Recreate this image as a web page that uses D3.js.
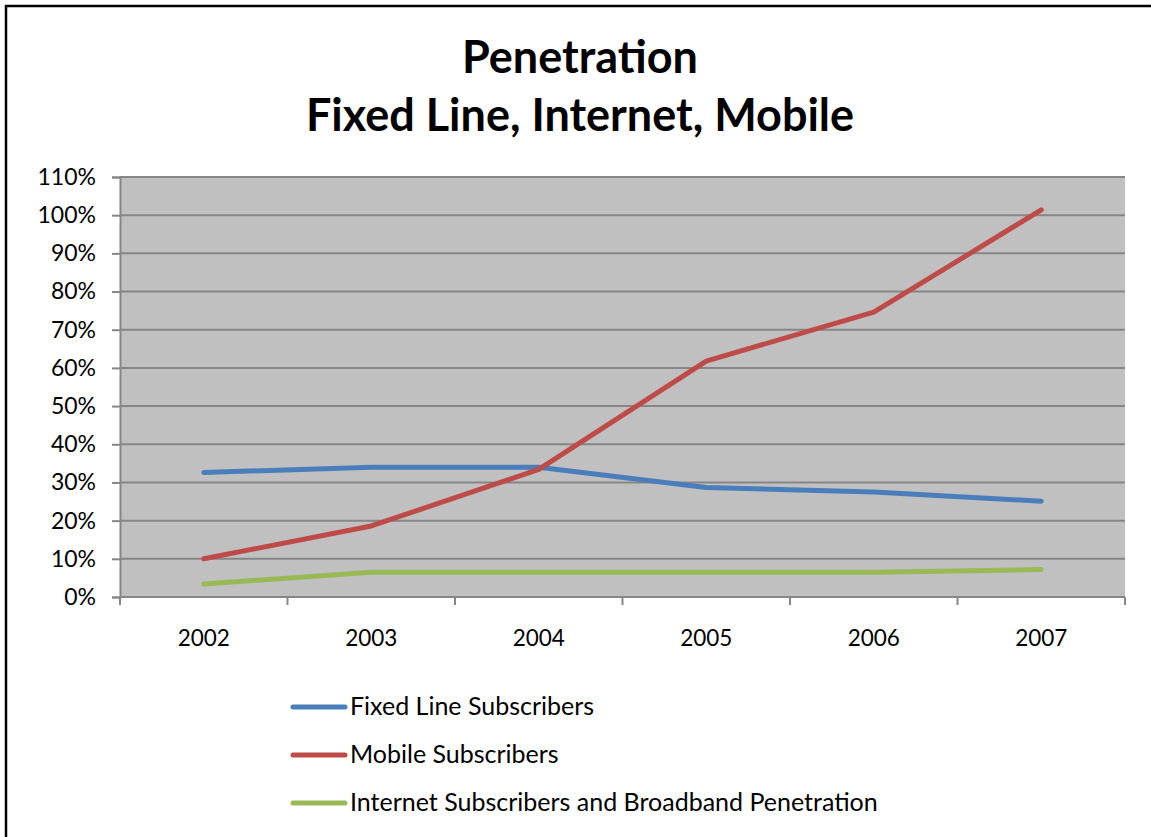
<!DOCTYPE html>
<html>
<head>
<meta charset="utf-8">
<script src="https://cdn.jsdelivr.net/npm/d3@7"></script>
<style>
  html, body { margin: 0; padding: 0; background: #fff; }
  svg { display: block; font-family: Lato, "Open Sans", sans-serif; }
</style>
</head>
<body>
<svg id="chart" width="1151" height="837"></svg>
<script>
// Penetration rates by year
const years = ["2002", "2003", "2004", "2005", "2006", "2007"];
const fixedLine = [0.326, 0.340, 0.340, 0.287, 0.275, 0.251];
const mobile = [0.100, 0.186, 0.334, 0.618, 0.746, 1.014];
const internet = [0.034, 0.065, 0.065, 0.065, 0.065, 0.072];
const seriesNames = ["Fixed Line Subscribers", "Mobile Subscribers", "Internet Subscribers and Broadband Penetration"];
const yTicks = [0, 0.1, 0.2, 0.3, 0.4, 0.5, 0.6, 0.7, 0.8, 0.9, 1.0, 1.1];
const titleLines = ["Penetration", "Fixed Line, Internet, Mobile"];

const series = [
  { name: seriesNames[0], values: fixedLine, color: "#4A7EBB" },
  { name: seriesNames[1], values: mobile, color: "#BE4B48" },
  { name: seriesNames[2], values: internet, color: "#98B954" }
];

const svg = d3.select("#chart");
const plot = { left: 120, right: 1125, top: 177, bottom: 597 };

// outer frame (runs past the right and bottom edges)
svg.append("rect")
  .attr("x", 6).attr("y", 6).attr("width", 1200).attr("height", 900)
  .attr("fill", "none").attr("stroke", "#000").attr("stroke-width", 2.5);

// title
svg.append("g").selectAll("text").data(titleLines).join("text")
  .attr("x", 580).attr("y", (d, i) => 73 + i * 58)
  .attr("text-anchor", "middle")
  .attr("font-size", 45).attr("font-weight", "bold").attr("fill", "#000")
  .text(d => d);

const x = d3.scaleBand().domain(years).range([plot.left, plot.right]);
const y = d3.scaleLinear().domain([0, 1.1]).range([plot.bottom, plot.top]);

// plot background
svg.append("rect")
  .attr("x", plot.left).attr("y", plot.top)
  .attr("width", plot.right - plot.left).attr("height", plot.bottom - plot.top)
  .attr("fill", "#C0C0C0");

// horizontal gridlines
svg.append("g").selectAll("line").data(yTicks).join("line")
  .attr("x1", plot.left).attr("x2", plot.right)
  .attr("y1", d => y(d)).attr("y2", d => y(d))
  .attr("stroke", "#868686").attr("stroke-width", 2);

// y axis
const yAxis = svg.append("g")
  .attr("transform", `translate(${plot.left},0)`)
  .call(d3.axisLeft(y).tickValues(yTicks).tickFormat(d3.format(".0%")).tickSize(8).tickPadding(16));
yAxis.select(".domain").attr("stroke", "#868686").attr("stroke-width", 2);
yAxis.selectAll(".tick line").attr("stroke", "#868686").attr("stroke-width", 2);
yAxis.selectAll("text").attr("font-size", 23).attr("fill", "#000")
  .attr("font-family", "Lato, 'Open Sans', sans-serif");

// x axis with ticks at category boundaries
const xAxis = svg.append("g")
  .attr("transform", `translate(0,${plot.bottom})`)
  .call(d3.axisBottom(x).tickSize(0).tickPadding(33));
xAxis.select(".domain").remove();
xAxis.selectAll("text").attr("font-size", 22.5).attr("fill", "#000")
  .attr("font-family", "Lato, 'Open Sans', sans-serif");
svg.append("line")
  .attr("x1", plot.left).attr("x2", plot.right)
  .attr("y1", plot.bottom).attr("y2", plot.bottom)
  .attr("stroke", "#868686").attr("stroke-width", 2);
const bounds = years.map(d => x(d)).concat([x(years[years.length - 1]) + x.bandwidth()]);
svg.append("g").selectAll("line").data(bounds).join("line")
  .attr("x1", d => d).attr("x2", d => d)
  .attr("y1", plot.bottom).attr("y2", plot.bottom + 8)
  .attr("stroke", "#868686").attr("stroke-width", 2);

// series lines
const line = d3.line()
  .x((d, i) => x(years[i]) + x.bandwidth() / 2)
  .y(d => y(d));
svg.append("g").selectAll("path").data(series).join("path")
  .attr("d", d => line(d.values))
  .attr("fill", "none").attr("stroke", d => d.color)
  .attr("stroke-width", 5).attr("stroke-linecap", "round").attr("stroke-linejoin", "round");

// legend
const legend = svg.append("g").selectAll("g").data(series).join("g")
  .attr("transform", (d, i) => `translate(293,${707 + i * 48})`);
legend.append("line")
  .attr("x1", 0).attr("x2", 52).attr("y1", 0).attr("y2", 0)
  .attr("stroke", d => d.color).attr("stroke-width", 5).attr("stroke-linecap", "round");
legend.append("text")
  .attr("x", 57).attr("y", 8)
  .attr("font-size", 25).attr("fill", "#000")
  .text(d => d.name);
</script>
</body>
</html>
